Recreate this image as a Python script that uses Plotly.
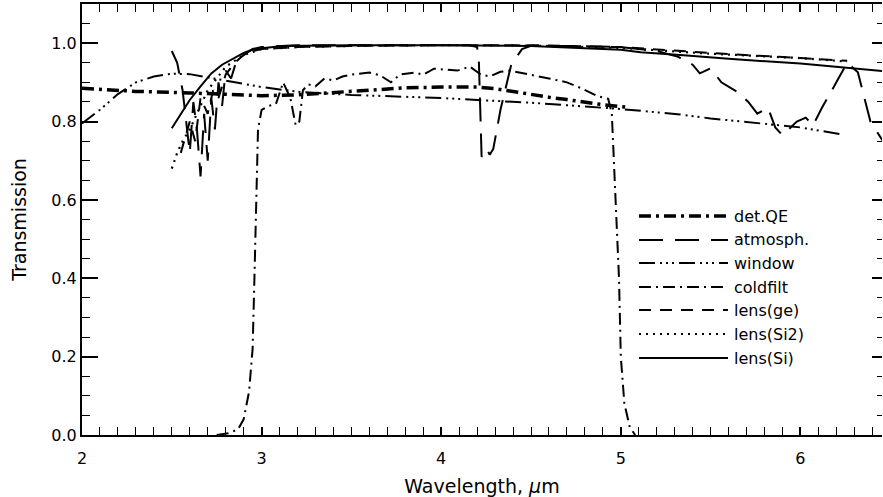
import plotly.graph_objects as go

# ---------------- data ----------------
detqe_x = [2.0, 2.3, 2.6, 2.8, 3.0, 3.2, 3.4, 3.6, 3.8, 4.0, 4.2, 4.3, 4.4, 4.5, 4.6, 4.7, 4.8, 4.9, 5.0, 5.05]
detqe_y = [0.885, 0.877, 0.873, 0.870, 0.866, 0.868, 0.874, 0.882, 0.886, 0.888, 0.888, 0.884, 0.876, 0.868, 0.862, 0.856, 0.849, 0.843, 0.838, 0.836]

atm_x = [2.5, 2.53, 2.56, 2.58, 2.6, 2.62, 2.64, 2.66, 2.68, 2.7, 2.72, 2.74, 2.76, 2.78, 2.8, 2.83,
         2.86, 2.9, 2.95, 3.0, 3.1, 3.2, 3.4, 3.6, 3.8, 4.0, 4.15, 4.2, 4.21, 4.225, 4.24, 4.255,
         4.27, 4.29, 4.33, 4.39, 4.45, 4.5, 4.7, 5.0, 5.2, 5.32, 5.4, 5.44, 5.5, 5.56, 5.65,
         5.71, 5.76, 5.82, 5.86, 5.9, 5.98, 6.03, 6.07, 6.12, 6.2, 6.26, 6.32, 6.39, 6.46]
atm_y = [0.98, 0.95, 0.88, 0.80, 0.72, 0.85, 0.78, 0.66, 0.82, 0.70, 0.86, 0.78, 0.90, 0.84, 0.93, 0.91,
         0.955, 0.97, 0.985, 0.99, 0.993, 0.995, 0.995, 0.995, 0.995, 0.995, 0.995, 0.99, 0.95, 0.71, 0.72, 0.73,
         0.715, 0.73, 0.83, 0.945, 0.985, 0.993, 0.993, 0.99, 0.98, 0.965, 0.945, 0.923, 0.936, 0.90, 0.875,
         0.85, 0.82, 0.835, 0.785, 0.765, 0.80, 0.81, 0.79, 0.835, 0.90, 0.95, 0.926, 0.80, 0.75]

window_x = [2.0, 2.1, 2.2, 2.3, 2.4, 2.5, 2.6, 2.8, 3.0, 3.2, 3.5, 4.0, 4.5, 5.0, 5.33, 5.5, 6.0, 6.22]
window_y = [0.795, 0.83, 0.87, 0.90, 0.915, 0.922, 0.921, 0.905, 0.888, 0.876, 0.868, 0.86, 0.848, 0.832, 0.818, 0.808, 0.785, 0.768]

cold_x = [2.75, 2.82, 2.87, 2.90, 2.93, 2.95, 2.96, 2.97, 2.98, 3.0, 3.04, 3.08, 3.12, 3.16, 3.19, 3.21,
          3.23, 3.26, 3.3, 3.35, 3.4, 3.45, 3.5, 3.6, 3.66, 3.72, 3.77, 3.85, 3.9, 3.96, 4.09, 4.16,
          4.22, 4.27, 4.33, 4.38, 4.5, 4.6, 4.7, 4.78, 4.87, 4.93, 4.95, 4.97, 4.99, 5.0, 5.02, 5.05, 5.08]
cold_y = [0.0, 0.005, 0.015, 0.04, 0.11, 0.22, 0.40, 0.60, 0.78, 0.83, 0.84, 0.845, 0.90, 0.86, 0.79, 0.80,
          0.88, 0.895, 0.89, 0.91, 0.905, 0.915, 0.92, 0.925, 0.918, 0.90, 0.92, 0.925, 0.92, 0.935, 0.93, 0.94,
          0.92, 0.915, 0.927, 0.93, 0.92, 0.91, 0.90, 0.885, 0.865, 0.858, 0.82, 0.60, 0.40, 0.20, 0.08, 0.02, 0.0]

ge_x = [2.55, 2.6, 2.63, 2.66, 2.7, 2.73, 2.76, 2.8, 2.85, 2.9, 2.95, 3.0, 3.2, 3.5, 4.0, 4.5, 5.0, 5.5, 6.0, 6.26]
ge_y = [0.72, 0.80, 0.75, 0.86, 0.82, 0.88, 0.86, 0.92, 0.95, 0.97, 0.98, 0.985, 0.99, 0.993, 0.995, 0.995, 0.99, 0.975, 0.962, 0.955]

si2_x = [2.5, 2.53, 2.56, 2.6, 2.65, 2.7, 2.75, 2.8, 2.9, 3.0, 3.2, 3.5, 4.0, 4.5, 5.0, 5.5, 6.0, 6.26]
si2_y = [0.68, 0.72, 0.75, 0.78, 0.83, 0.88, 0.91, 0.94, 0.97, 0.985, 0.99, 0.993, 0.995, 0.994, 0.988, 0.973, 0.962, 0.953]

si_x = [2.5, 2.55, 2.6, 2.66, 2.72, 2.78, 2.83, 2.9, 2.94, 3.0, 3.12, 3.5, 4.0, 4.5, 5.0, 5.11, 5.35, 5.6, 6.0, 6.46]
si_y = [0.783, 0.82, 0.855, 0.89, 0.923, 0.945, 0.957, 0.975, 0.982, 0.987, 0.993, 0.995, 0.995, 0.993, 0.983, 0.977, 0.969, 0.96, 0.948, 0.929]

names = ["det.QE", "atmosph.", "window", "coldfilt", "lens(ge)", "lens(Si2)", "lens(Si)"]
xs = [detqe_x, atm_x, window_x, cold_x, ge_x, si2_x, si_x]
ys = [detqe_y, atm_y, window_y, cold_y, ge_y, si2_y, si_y]

# ---------------- styles ----------------
dashes = ["12px,5px,3px,5px", "24px,12px", "16px,5px,2px,4px,2px,4px,2px,5px",
          "12px,5px,2px,5px", "12px,9px", "2px,5px", "solid"]
widths = [3.5, 2, 2, 2, 2, 2.2, 2]

FONT = "DejaVu Sans"
fig = go.Figure()
for n, x, y, d, w in zip(names, xs, ys, dashes, widths):
    fig.add_trace(go.Scatter(x=x, y=y, mode="lines", name=n, showlegend=False,
                             line=dict(color="black", width=w, dash=d)))

# hand-drawn legend (long line samples as in the original)
L, R, T, B = 82, 1, 4, 62
W, H = 883, 497
pw, ph = W - L - R, H - T - B
row_px = [216, 240, 263, 287, 310, 334, 358]
for n, d, w, py in zip(names, dashes, widths, row_px):
    yp = (H - B - py) / ph
    fig.add_shape(type="line", xref="paper", yref="paper",
                  x0=(639 - L) / pw, x1=(728 - L) / pw, y0=yp, y1=yp,
                  line=dict(color="black", width=w, dash=d))
    fig.add_annotation(xref="paper", yref="paper", x=(732 - L) / pw, y=yp,
                       text=n, showarrow=False, xanchor="left", yanchor="middle",
                       font=dict(family=FONT, size=16, color="black"))

fig.update_layout(
    width=W, height=H,
    margin=dict(l=L, r=R, t=T, b=B, autoexpand=False),
    plot_bgcolor="white", paper_bgcolor="white",
    font=dict(family=FONT, size=16, color="black"),
    xaxis=dict(range=[2, 2 + pw / 179.6], tickmode="array", tickvals=[2, 3, 4, 5, 6],
               ticktext=["2", "3", "4", "5", "6"], automargin=False, ticklabelstandoff=8,
               ticks="inside", ticklen=8, tickwidth=1.5, tickcolor="black",
               minor=dict(dtick=0.1, tick0=2, ticks="inside", ticklen=4, tickwidth=1.2, tickcolor="black"),
               showline=True, linecolor="black", linewidth=2, mirror="allticks",
               showgrid=False, zeroline=False,
               title=dict(text="Wavelength, <i>μ</i>m", standoff=12)),
    yaxis=dict(range=[0, 1.1], tickmode="array", tickvals=[0, 0.2, 0.4, 0.6, 0.8, 1.0],
               ticktext=["0.0", "0.2", "0.4", "0.6", "0.8", "1.0"], automargin=False,
               ticks="inside", ticklen=16, tickwidth=1.5, tickcolor="black",
               minor=dict(dtick=0.05, tick0=0, ticks="inside", ticklen=8, tickwidth=1.2, tickcolor="black"),
               showline=True, linecolor="black", linewidth=2, mirror=False,
               showgrid=False, zeroline=False,
               title=dict(text="Transmission", standoff=20)),
    yaxis2=dict(overlaying="y", side="right", anchor="x", range=[0, 1.1], automargin=False,
                tickmode="array", tickvals=[0, 0.2, 0.4, 0.6, 0.8, 1.0], showticklabels=False,
                ticks="inside", ticklen=10, tickwidth=1.5, tickcolor="black",
                minor=dict(dtick=0.05, tick0=0, ticks="inside", ticklen=5, tickwidth=1.2, tickcolor="black"),
                showline=False, showgrid=False, zeroline=False),
)
# invisible trace to activate yaxis2
fig.add_trace(go.Scatter(x=[2], y=[0], yaxis="y2", mode="lines", showlegend=False,
                         line=dict(width=0), hoverinfo="skip"))

fig.write_html("out.html", config={"displayModeBar": False},
               post_script="document.body.style.margin='0px';document.body.style.overflow='hidden';")
